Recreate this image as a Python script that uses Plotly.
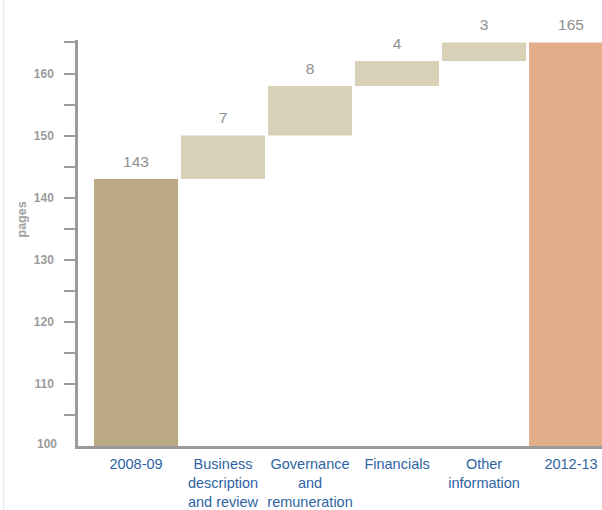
import plotly.graph_objects as go

categories = ["2008-09", "Business<br>description<br>and review", "Governance<br>and<br>remuneration",
              "Financials", "Other<br>information", "2012-13"]
values = [143, 7, 8, 4, 3, 165]
kinds = ["absolute", "relative", "relative", "relative", "relative", "total"]
y_ticks = [110, 120, 130, 140, 150, 160]
y_minor_ticks = [105, 115, 125, 135, 145, 155, 165]
y_bottom_label = 100

colors = {"absolute": "#BBA983", "relative": "#D9D0B8", "total": "#E2AE8A"}

# compute waterfall bases/tops from data
bases, tops = [], []
running = 0
for v, k in zip(values, kinds):
    if k == "relative":
        bases.append(running)
        running += v
    else:
        bases.append(0)
        running = v
    tops.append(running)

xs = list(range(len(categories)))
font_family = "Liberation Sans, Arial, sans-serif"

fig = go.Figure()
fig.add_trace(go.Bar(
    x=xs, y=[t - b for t, b in zip(tops, bases)], base=bases,
    marker=dict(color=[colors[k] for k in kinds], line=dict(width=0)),
    hoverinfo="skip", showlegend=False,
))
fig.add_trace(go.Scatter(
    x=xs, y=tops, mode="markers+text", text=[str(v) for v in values],
    marker=dict(size=12, opacity=0),
    textposition="top center", cliponaxis=False,
    textfont=dict(family=font_family, size=15.5, color="#8F8F8F"),
    hoverinfo="skip", showlegend=False,
))

axis_gray = "#9B9B9B"
fig.update_layout(
    width=602, height=510,
    margin=dict(l=78, r=0, t=40, b=64),
    paper_bgcolor="white", plot_bgcolor="white",
    bargap=0.035,
    xaxis=dict(
        range=[-0.667, 5.356], tickmode="array", tickvals=xs, ticktext=categories,
        showgrid=False, zeroline=False, showline=True, linecolor=axis_gray, linewidth=2.5,
        ticks="", tickfont=dict(family=font_family, size=14.5, color="#2F63A3"),
        ticklabelstandoff=3,
    ),
    yaxis=dict(
        range=[100, 165.4], tickvals=y_ticks, showgrid=False, zeroline=False,
        showline=True, linecolor=axis_gray, linewidth=2.5,
        ticks="outside", ticklen=11, tickwidth=1.5, tickcolor=axis_gray,
        minor=dict(ticks="outside", ticklen=11, tickwidth=1.5, tickcolor=axis_gray, tickvals=y_minor_ticks),
        tickfont=dict(family=font_family, size=12, color="#9B9B9B", weight="bold"),
        ticklabelstandoff=8,
    ),
    annotations=[
        dict(text="<b>pages</b>", textangle=-90, xref="paper", yref="paper",
             x=(21.5 - 78) / 524, y=(446 - 220) / 406, showarrow=False,
             xanchor="center", yanchor="middle",
             font=dict(family=font_family, size=12.5, color="#A0A0A0")),
        dict(text="<b>%d</b>" % y_bottom_label, xref="paper", yref="y",
             x=(58 - 78) / 524, y=y_bottom_label, yshift=2, showarrow=False,
             xanchor="right", yanchor="middle", borderpad=0,
             font=dict(family=font_family, size=12, color="#9B9B9B")),
    ],
    shapes=[dict(type="line", xref="paper", yref="paper",
                 x0=(3.5 - 78) / 524, x1=(3.5 - 78) / 524, y0=-64 / 406, y1=470 / 406,
                 line=dict(color="#EBEBEB", width=1.5))],
)

fig.write_html("out.html")
